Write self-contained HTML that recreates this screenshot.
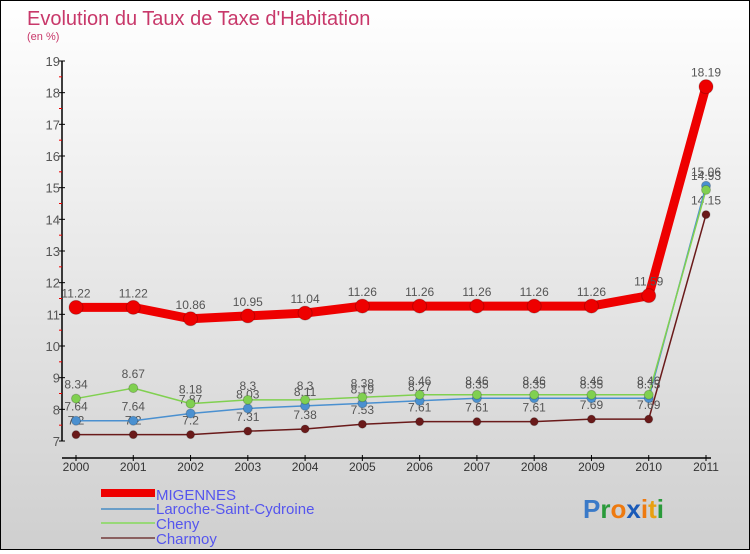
<!DOCTYPE html>
<html><head><meta charset="utf-8">
<style>
html,body{margin:0;padding:0;}
body{width:750px;height:550px;overflow:hidden;font-family:"Liberation Sans",sans-serif;}
#wrap{position:relative;width:748px;height:548px;border:1px solid #000;background:linear-gradient(#ffffff,#cfcfcf);}
</style></head>
<body>
<div id="wrap">
<svg id="chart" width="748" height="548" xmlns="http://www.w3.org/2000/svg">
<text x="26" y="24" font-size="20" fill="#c8386a">Evolution du Taux de Taxe d'Habitation</text>
<text x="26" y="39" font-size="11" fill="#c8386a">(en %)</text>
<g id="axes"></g>
<g id="series"></g>
<g id="legend">
<rect x="100" y="488" width="54" height="8" fill="#ee0000"/>
<text x="155" y="499" font-size="15" fill="#5555ee">MIGENNES</text>
<line x1="100" y1="508" x2="154" y2="508" stroke="#6a9ec8" stroke-width="2"/>
<text x="155" y="513" font-size="15" fill="#5555ee">Laroche-Saint-Cydroine</text>
<line x1="100" y1="522" x2="154" y2="522" stroke="#98d878" stroke-width="2"/>
<text x="155" y="528" font-size="15" fill="#5555ee">Cheny</text>
<line x1="100" y1="537" x2="154" y2="537" stroke="#8a6060" stroke-width="2"/>
<text x="155" y="543" font-size="15" fill="#5555ee">Charmoy</text>
</g>
<text x="582" y="517" font-size="26" font-weight="bold"><tspan fill="#3a7ac8">P</tspan><tspan fill="#2a9a3a">r</tspan><tspan fill="#ee7a10">o</tspan><tspan fill="#1a5ab8">x</tspan><tspan fill="#ee7a10">i</tspan><tspan fill="#e8a010">t</tspan><tspan fill="#2a9a3a">i</tspan></text>
</svg>
</div>
<script>
const years = ["2000","2001","2002","2003","2004","2005","2006","2007","2008","2009","2010","2011"];
const migennes = [11.22,11.22,10.86,10.95,11.04,11.26,11.26,11.26,11.26,11.26,11.59,18.19];
const laroche = [7.64,7.64,7.87,8.03,8.11,8.19,8.27,8.35,8.35,8.35,8.35,15.06];
const cheny = [8.34,8.67,8.18,8.3,8.3,8.38,8.46,8.46,8.46,8.46,8.46,14.93];
const charmoy = [7.2,7.2,7.2,7.31,7.38,7.53,7.61,7.61,7.61,7.69,7.69,14.15];
const yTicks = [7,8,9,10,11,12,13,14,15,16,17,18,19];

const NS = "http://www.w3.org/2000/svg";
function xs(i){ return 75 + i*(705-75)/(years.length-1); }
function ys(v){ return 440 - (v-7)*(380/12); }
function mk(tag, attrs, parent, text){
  const e = document.createElementNS(NS, tag);
  for (const k in attrs) e.setAttribute(k, attrs[k]);
  if (text !== undefined) e.textContent = text;
  parent.appendChild(e);
  return e;
}
const axes = document.getElementById('axes');
let e;
e = mk('line',{x1:61,y1:ys(19),x2:61,y2:ys(7),stroke:'#000','stroke-width':1.5},axes);


e = mk('line',{x1:61,y1:457,x2:710,y2:457,stroke:'#000','stroke-width':1.5},axes);


yTicks.forEach(t=>{
  e = mk('line',{x1:58,y1:ys(t),x2:64,y2:ys(t),stroke:'#000'},axes);
  
  
  if (t<19){
    e = mk('line',{x1:58,y1:ys(t+0.5),x2:61,y2:ys(t+0.5),stroke:'#e00'},axes);
    
    
  }
  e = mk('text',{x:59,y:ys(t)+5,'font-size':13,fill:'#555','text-anchor':'end'},axes,String(t));
  
  
});
years.forEach((y,i)=>{
  e = mk('line',{x1:xs(i),y1:454,x2:xs(i),y2:460,stroke:'#000'},axes);
  
  
  e = mk('text',{x:xs(i),y:470,'font-size':12,fill:'#333','text-anchor':'middle'},axes,y);
  
  
});
const sg = document.getElementById('series');
function drawSeries(name, vals, color, width, r, labelColor){
  const g = mk('g',{},sg);
  
  
  const pts = vals.map((v,i)=>xs(i)+','+ys(v)).join(' ');
  e = mk('polyline',{points:pts,fill:'none',stroke:color,'stroke-width':width,'stroke-linejoin':'round'},g);
  
  
  vals.forEach((v,i)=>{
    e = mk('circle',{cx:xs(i),cy:ys(v),r:r,fill:color,stroke:'rgba(0,0,0,0.2)'},g);
    
    
    e = mk('text',{x:xs(i),y:ys(v)-10,'font-size':12,fill:'#555','text-anchor':'middle'},g,String(v));
    
    
  });
}
drawSeries('charmoy', charmoy, '#6a1a1a', 1.5, 4, '#555');
drawSeries('laroche', laroche, '#4a90d0', 1.5, 4.5, '#555');
drawSeries('cheny', cheny, '#80d050', 1.5, 4.5, '#555');
drawSeries('migennes', migennes, '#ee0000', 9, 7, '#555');
</script>
</body></html>
